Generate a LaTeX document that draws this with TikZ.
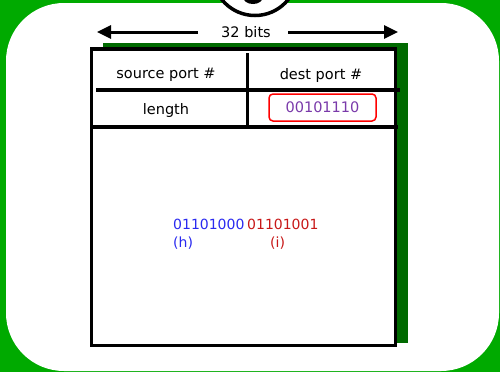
\documentclass[tikz,border=0pt]{standalone}
\usepackage{fontspec}
\setmainfont{DejaVu Sans}
\usetikzlibrary{arrows.meta}
\definecolor{bggreen}{HTML}{00AA00}
\definecolor{shadowgreen}{HTML}{006A00}
\definecolor{bitblue}{HTML}{2A2AF0}
\definecolor{bitred}{HTML}{C81818}
\definecolor{bitpurple}{HTML}{7A3AAA}
\tikzset{
  lbl/.style={font=\fontsize{14.5}{16}\selectfont, inner sep=0pt},
  bits/.style={font=\fontsize{14}{16}\selectfont, inner sep=0pt, anchor=base west},
  rule/.style={line width=3.5pt},
  dimarrow/.style={line width=3pt, -{Triangle[length=14pt,width=13pt]}}
}
\begin{document}
\begin{tikzpicture}[x=1pt,y=-1pt]
\useasboundingbox (0,0) rectangle (500,372);
\fill[bggreen] (0,0) rectangle (500,372);
\fill[white, rounded corners=58pt] (6,3) rectangle (499,371);
% top circle (cut off)
\draw[line width=3.5pt, fill=white] (255,-27) circle (42.5);
\fill[black] (253,-3) ellipse (10 and 7);
% shadow and box
\fill[shadowgreen] (103,43) rectangle (408,343);
\draw[rule, fill=white] (91.5,49) rectangle (395.5,345.5);
\coordinate (h1l) at (96,90); \coordinate (h1r) at (400,90);
\coordinate (h2l) at (92,127); \coordinate (h2r) at (398,127);
\coordinate (vt) at (247,53); \coordinate (vb) at (247,127);
\draw[rule] (h1l) -- (h1r);
\draw[rule] (h2l) -- (h2r);
\draw[line width=3pt] (vt) -- (vb);
% width arrow
\node[lbl] (w) at (246,32) {32 bits};
\coordinate (wl) at (97,32); \coordinate (wr) at (398,32);
\coordinate (wls) at (198,32); \coordinate (wrs) at (288,32);
\draw[dimarrow] (wls) -- (wl);
\draw[dimarrow] (wrs) -- (wr);
% fields
\node[lbl] (src) at (166,75) {source port \#};
\node[lbl] (dst) at (321,75) {dest port \#};
\node[lbl] (len) at (166,110) {length};
\node[lbl, text=bitpurple, draw=red, line width=1.5pt, rounded corners=4pt,
      minimum width=107pt, minimum height=27pt] (val) at (322.5,107.5) {00101110};
% data bits
\node[bits, text=bitblue] (hb) at (173,229) {01101000};
\node[bits, text=bitred] (ib) at (247,229) {01101001};
\node[bits, text=bitblue] (hc) at (173,247) {(h)};
\node[bits, text=bitred] (ic) at (270,247) {(i)};
\end{tikzpicture}
\end{document}
